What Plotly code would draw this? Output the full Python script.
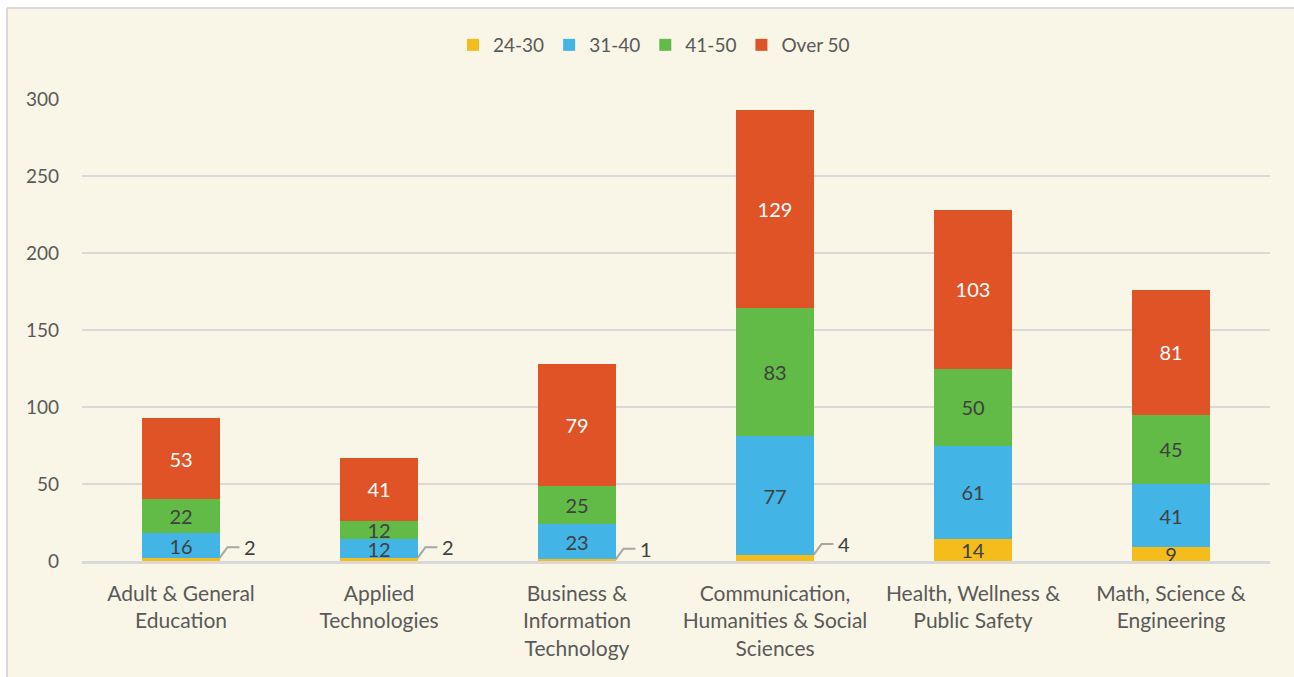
import plotly.graph_objects as go

# Faculty counts by age band, per academic division
categories = [
    "Adult & General<br>Education",
    "Applied<br>Technologies",
    "Business &<br>Information<br>Technology",
    "Communication,<br>Humanities & Social<br>Sciences",
    "Health, Wellness &<br>Public Safety",
    "Math, Science &<br>Engineering",
]
age_24_30 = [2, 2, 1, 4, 14, 9]
age_31_40 = [16, 12, 23, 77, 61, 41]
age_41_50 = [22, 12, 25, 83, 50, 45]
age_over_50 = [53, 41, 79, 129, 103, 81]

series = [
    ("24-30", age_24_30, "#F5BD1B", "#404040"),
    ("31-40", age_31_40, "#42B4E5", "#404040"),
    ("41-50", age_41_50, "#62BA47", "#404040"),
    ("Over 50", age_over_50, "#E05327", "#FFFFFF"),
]

FONT = "Lato"
BAR_W = 0.39
xs = list(range(len(categories)))

# plot area in pixels: left 82, right 1270, top 99, bottom 561
PW, PH = 1188, 462

fig = go.Figure()
for name, vals, color, txtcol in series:
    # values too small to hold a label get a callout instead
    labels = [str(v) if v >= 5 else "" for v in vals]
    fig.add_trace(go.Bar(
        x=xs, y=vals, name=name, width=BAR_W,
        marker=dict(color=color, line=dict(width=0)),
        text=labels, textposition="inside", insidetextanchor="middle",
        constraintext="none", textangle=0,
        textfont=dict(family=FONT, size=20, color=txtcol),
        hoverinfo="x+y+name",
    ))

# callouts with leader lines for the small 24-30 segments
for i, v in enumerate(age_24_30):
    if v >= 5:
        continue
    x0 = i + BAR_W / 2
    yh = v + 7
    fig.add_shape(type="path",
                  path=f"M {x0} {v} L {x0 + 0.04} {yh} L {x0 + 0.1} {yh}",
                  xref="x", yref="y",
                  line=dict(color="#A6A6A6", width=2))
    fig.add_annotation(x=x0 + 0.115, y=yh, text=str(v), showarrow=False,
                       xanchor="left", yanchor="middle",
                       font=dict(family=FONT, size=20, color="#404040"))

# white page strip and the chart frame (left and top edges)
fx = (7 - 82) / PW
fy = 1 + (99 - 8) / PH
fig.add_shape(type="rect", xref="paper", yref="paper", layer="below",
              x0=-82 / PW, x1=fx, y0=-0.3, y1=1 + 99 / PH,
              fillcolor="white", line=dict(width=0))
fig.add_shape(type="rect", xref="paper", yref="paper", layer="below",
              x0=-82 / PW, x1=1.1, y0=fy, y1=1 + 99 / PH,
              fillcolor="white", line=dict(width=0))
fig.add_shape(type="line", xref="paper", yref="paper",
              x0=fx, x1=fx, y0=-0.3, y1=fy,
              line=dict(color="#D9D9D9", width=2))
fig.add_shape(type="line", xref="paper", yref="paper",
              x0=fx, x1=1.1, y0=fy, y1=fy,
              line=dict(color="#D9D9D9", width=2))

fig.update_layout(
    width=1294, height=677,
    barmode="stack",
    paper_bgcolor="#F9F6E7", plot_bgcolor="#F9F6E7",
    margin=dict(l=82, r=24, t=99, b=116),
    font=dict(family=FONT, size=19, color="#595959"),
    legend=dict(orientation="h", x=0.5 - 22 / PW, xanchor="center",
                y=(561 - 45) / PH, yanchor="middle",
                font=dict(size=19, color="#595959"),
                itemwidth=30, traceorder="normal"),
    xaxis=dict(tickvals=xs, ticktext=categories, range=[-0.5, 5.5],
               showgrid=False, showline=True, linecolor="#D9D9D9", linewidth=2.5,
               ticks="", ticklabelstandoff=12,
               tickfont=dict(size=21, color="#595959")),
    yaxis=dict(range=[0, 300], dtick=50, showgrid=True, gridcolor="#D9D9D9",
               gridwidth=1.5, zeroline=False, ticks="", ticklabelstandoff=22,
               tickfont=dict(size=19, color="#595959")),
    showlegend=True,
)

fig.write_html("out.html", config={"displayModeBar": False},
               post_script="document.body.style.margin='0';")
